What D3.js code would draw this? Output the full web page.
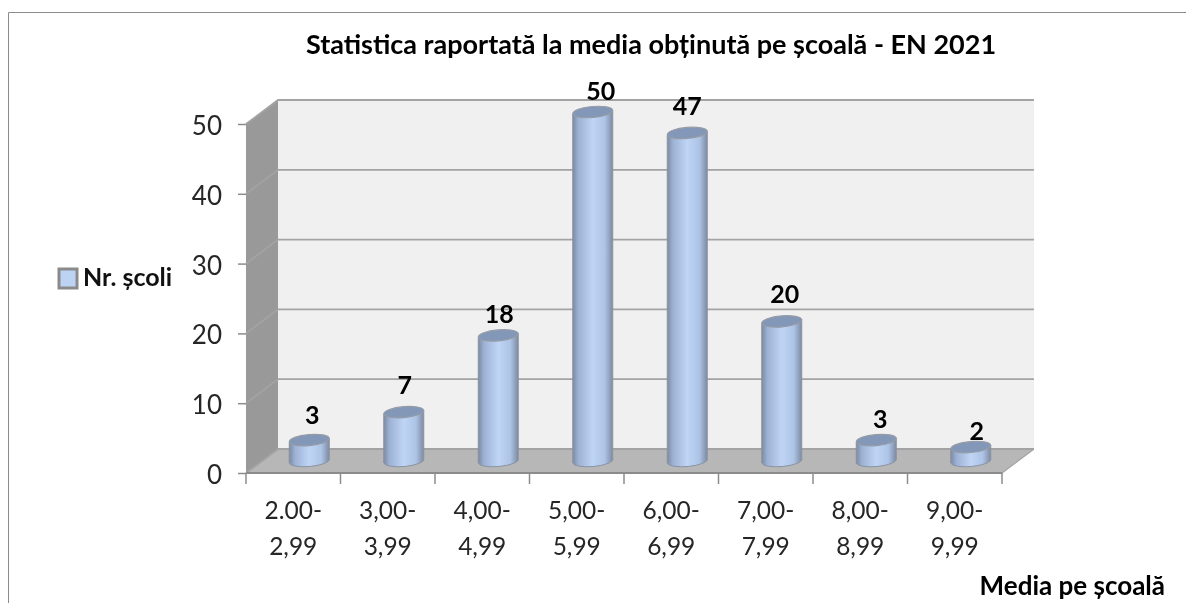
<!DOCTYPE html>
<html>
<head>
<meta charset="utf-8">
<script src="https://cdn.jsdelivr.net/npm/d3@7"></script>
<style>
  html, body { margin: 0; padding: 0; background: #fff; overflow: hidden; }
  svg { display: block; font-family: Lato, "Open Sans", sans-serif; filter: blur(0.35px); }
</style>
</head>
<body>
<div id="chart"></div>
<script>
const categories = ["2.00-2,99", "3,00-3,99", "4,00-4,99", "5,00-5,99", "6,00-6,99", "7,00-7,99", "8,00-8,99", "9,00-9,99"];
const nrScoli = [3, 7, 18, 50, 47, 20, 3, 2];
const yTicks = [0, 10, 20, 30, 40, 50];

const width = 1186, height = 603;
// 3d box: how far the back wall is pushed from the front corner
const dx = 32, dy = -24;

const svg = d3.select("#chart").append("svg")
  .attr("width", width)
  .attr("height", height);

const x = d3.scaleBand().domain(categories).range([246, 1002]);
const y = d3.scaleLinear().domain([0, 50]).range([473, 124]);

// cylinder gradient
const grad = svg.append("defs").append("linearGradient").attr("id", "cyl");
grad.selectAll("stop")
  .data([[0, "#7c8aa2"], [0.14, "#9cb1d3"], [0.5, "#bfd5f6"], [0.8, "#aec4e6"], [1, "#7c8aa2"]])
  .enter().append("stop")
  .attr("offset", d => d[0])
  .attr("stop-color", d => d[1]);

// chart frame (only top and left are in the crop)
svg.append("path")
  .attr("d", "M8.5 603V12.5H1186")
  .attr("fill", "none")
  .attr("stroke", "#8c8c8c")
  .attr("stroke-width", 1);

const [x0, x1] = x.range();
const [y0, y1] = y.range();

// walls
svg.append("rect")
  .attr("x", x0 + dx).attr("y", y1 + dy)
  .attr("width", x1 - x0).attr("height", y0 - y1)
  .attr("fill", "#f0f0f0");

svg.append("polygon")
  .attr("points", [[x0, y1], [x0 + dx, y1 + dy], [x0 + dx, y0 + dy], [x0, y0]].join(" "))
  .attr("fill", "#999999");

svg.append("polygon")
  .attr("points", [[x0, y0], [x0 + dx, y0 + dy], [x1 + dx, y0 + dy], [x1, y0]].join(" "))
  .attr("fill", "#b7b7b7");

// gridlines, back wall and side wall
const grid = svg.append("g").attr("fill", "none").attr("stroke", "#a3a3a3");
grid.selectAll("path")
  .data(yTicks)
  .enter().append("path")
  .attr("d", d => `M${x0} ${y(d)}L${x0 + dx} ${y(d) + dy}H${x1 + dx}`)
  .attr("stroke-width", 1.8);
grid.append("path")
  .attr("d", `M${x1} ${y0}L${x1 + dx} ${y0 + dy}`)
  .attr("stroke-width", 1.2);

// axes
const yAxis = svg.append("g")
  .attr("transform", `translate(${x0},0)`)
  .call(d3.axisLeft(y).tickValues(yTicks).tickSize(8).tickPadding(16));
yAxis.select(".domain").remove();
yAxis.selectAll("line").attr("stroke", "#8c8c8c").attr("stroke-width", 1.5);
yAxis.selectAll("text")
  .attr("fill", "#262626")
  .attr("font-size", 26)
  .attr("dy", "0.4em")
  .attr("font-family", "Lato, sans-serif");

const xAxis = svg.append("g")
  .attr("transform", `translate(0,${y0})`)
  .call(d3.axisBottom(x).tickSize(0).tickFormat(""));
xAxis.select(".domain").remove();
xAxis.selectAll(".tick").remove();

xAxis.append("line")
  .attr("x1", x0).attr("x2", x1)
  .attr("stroke", "#8c8c8c").attr("stroke-width", 2);

xAxis.selectAll(".sep")
  .data(categories.concat("end"))
  .enter().append("line")
  .attr("class", "sep")
  .attr("x1", (d, i) => x0 + i * x.bandwidth())
  .attr("x2", (d, i) => x0 + i * x.bandwidth())
  .attr("y2", 11)
  .attr("stroke", "#8c8c8c").attr("stroke-width", 1.5);

const labels = svg.append("g")
  .attr("text-anchor", "middle")
  .attr("fill", "#262626")
  .attr("font-size", 24.5);
labels.selectAll("text")
  .data(categories)
  .enter().append("text")
  .attr("x", d => x(d) + x.bandwidth() / 2)
  .attr("y", 519)
  .each(function(d) {
    const parts = d.split("-");
    d3.select(this).append("tspan").text(parts[0] + "-");
    d3.select(this).append("tspan")
      .attr("x", x(d) + x.bandwidth() / 2)
      .attr("dy", 36)
      .text(parts[1]);
  });

// cylinders
const rx = 20, ry = 5.5, tilt = -5;
const baseOff = -12;  // cylinder sits half way into the floor depth
const bars = svg.append("g").selectAll("g")
  .data(categories)
  .enter().append("g")
  .attr("transform", d => `translate(${x(d) + x.bandwidth() / 2 + dx / 2},0)`);

bars.append("path")
  .attr("d", (d, i) => {
    const top = y(nrScoli[i]) + baseOff, bot = y0 + baseOff;
    return `M${-rx} ${top + 2}V${bot + 2}A${rx} ${ry} ${tilt} 0 0 ${rx} ${bot - 2}V${top - 2}Z`;
  })
  .attr("fill", "url(#cyl)")
  .attr("stroke", "#8b93a1")
  .attr("stroke-width", 1);

bars.append("ellipse")
  .attr("rx", rx)
  .attr("ry", ry)
  .attr("transform", (d, i) => `translate(0,${y(nrScoli[i]) + baseOff}) rotate(${tilt})`)
  .attr("fill", "#8397b8")
  .attr("stroke", "#969ca6")
  .attr("stroke-width", 1.2);

// value labels, hand-placed in the original so each one has its own nudge
const nudgeX = [3, 1, 1, 8, 0, 3, 4, 6];
const nudgeY = [2, 0, 6, 6, 0, 0, 6, 11];
bars.append("text")
  .attr("text-anchor", "middle")
  .attr("x", (d, i) => nudgeX[i])
  .attr("y", (d, i) => y(nrScoli[i]) + baseOff - 18 + nudgeY[i])
  .attr("font-size", 25)
  .attr("font-weight", 700)
  .attr("fill", "#000")
  .text((d, i) => nrScoli[i]);

// title
svg.append("text")
  .attr("x", 651)
  .attr("y", 54)
  .attr("text-anchor", "middle")
  .attr("font-size", 27)
  .attr("font-weight", 700)
  .attr("fill", "#000")
  .text("Statistica raportată la media obținută pe școală - EN 2021");

// legend
svg.append("rect")
  .attr("x", 59).attr("y", 269)
  .attr("width", 18).attr("height", 19)
  .attr("fill", "#bdd3f4")
  .attr("stroke", "#8a8a8a")
  .attr("stroke-width", 3);
svg.append("text")
  .attr("x", 83)
  .attr("y", 286)
  .attr("font-size", 25)
  .attr("font-weight", 700)
  .attr("fill", "#111")
  .text("Nr. școli");

// x axis title
svg.append("text")
  .attr("x", 1165)
  .attr("y", 595)
  .attr("text-anchor", "end")
  .attr("font-size", 26)
  .attr("font-weight", 700)
  .attr("fill", "#000")
  .text("Media pe școală");
</script>
</body>
</html>
